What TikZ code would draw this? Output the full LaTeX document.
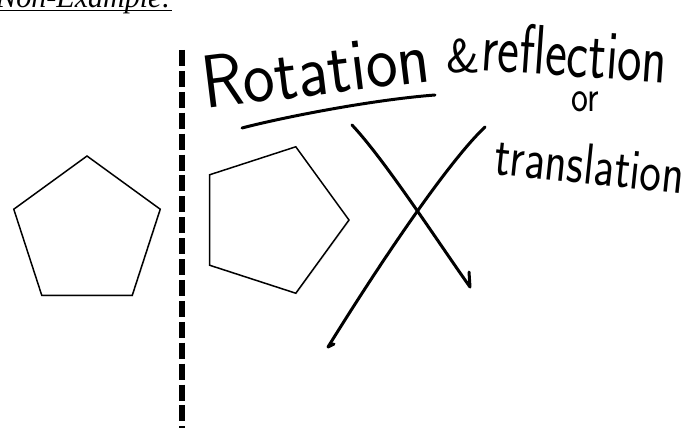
\documentclass[tikz,border=0pt]{standalone}
\usepackage{fontspec}
\newfontfamily\headfont{Liberation Serif}
\usetikzlibrary{shapes,positioning,shadows}

\begin{document}
\begin{tikzpicture}[
    x={(0.02cm,0)}, y={(0,-0.02cm)},
    penta/.style={regular polygon, regular polygon sides=5, draw, line width=0.85pt, fill=white, minimum size=3.08cm, inner sep=0pt, outer sep=0pt, drop shadow={opacity=0.2, shadow xshift=0.5pt, shadow yshift=-0.7pt}},
    hand/.style={inner sep=0pt, transform shape},
    pen/.style={line width=1.7pt, line cap=round, line join=round},
    mirror/.style={line width=3.4pt, dash pattern=on 9.1pt off 2.8pt}
]
\clip (0,0) rectangle (689,432);

% Title
\node[inner sep=0pt, anchor=base west, font=\headfont\itshape\fontsize{17.1}{20}\selectfont] (title) at (-4,8) {Non-Example:};
\draw[line width=0.6pt] ([yshift=-1.2pt]title.base west) -- ([yshift=-1.2pt]title.base east);

% Mirror line
\coordinate (mtop) at (182,50);
\coordinate (mbot) at (182,428);
\draw[mirror] (mtop) -- (mbot);

% Pentagons
\node[penta] (left) at (87,233) {};
\node[penta, regular polygon rotate=-90] (right) at (272,220) {};

% Handwriting
\node[hand, anchor=base west, rotate=7, xscale=0.9, font=\sffamily\fontsize{42.7}{44}\selectfont] (rot) at (205,109) {Rotation};
\node[hand, anchor=base, font=\sffamily\fontsize{27}{28}\selectfont] (amp) at (463,73) {\&};
\node[hand, anchor=base west, rotate=-4, xscale=0.74, font=\sffamily\fontsize{39.8}{41}\selectfont] (refl) at (480,70) {reflection};
\node[hand, anchor=base west, xscale=0.8, font=\sffamily\fontsize{25.6}{27}\selectfont] (or) at (571,112) {or};
\node[hand, anchor=base west, rotate=-6, xscale=0.79, font=\sffamily\fontsize{33}{34}\selectfont] (trans) at (493,174) {translation};

% Underline stroke
\coordinate (u1) at (242,128);
\coordinate (u2) at (435,95);
\draw[pen] (u1) .. controls (280,118) and (370,100) .. (u2);

% Cross
\coordinate (a1) at (352,125);
\coordinate (a2) at (470,287);
\coordinate (b1) at (485,127);
\coordinate (b2) at (328,347);
\draw[pen] (a1) .. controls (385,160) and (440,245) .. (a2) -- (469,272);
\draw[pen] (b1) .. controls (450,160) and (385,255) .. (b2) -- (334,344);

\end{tikzpicture}
\end{document}
